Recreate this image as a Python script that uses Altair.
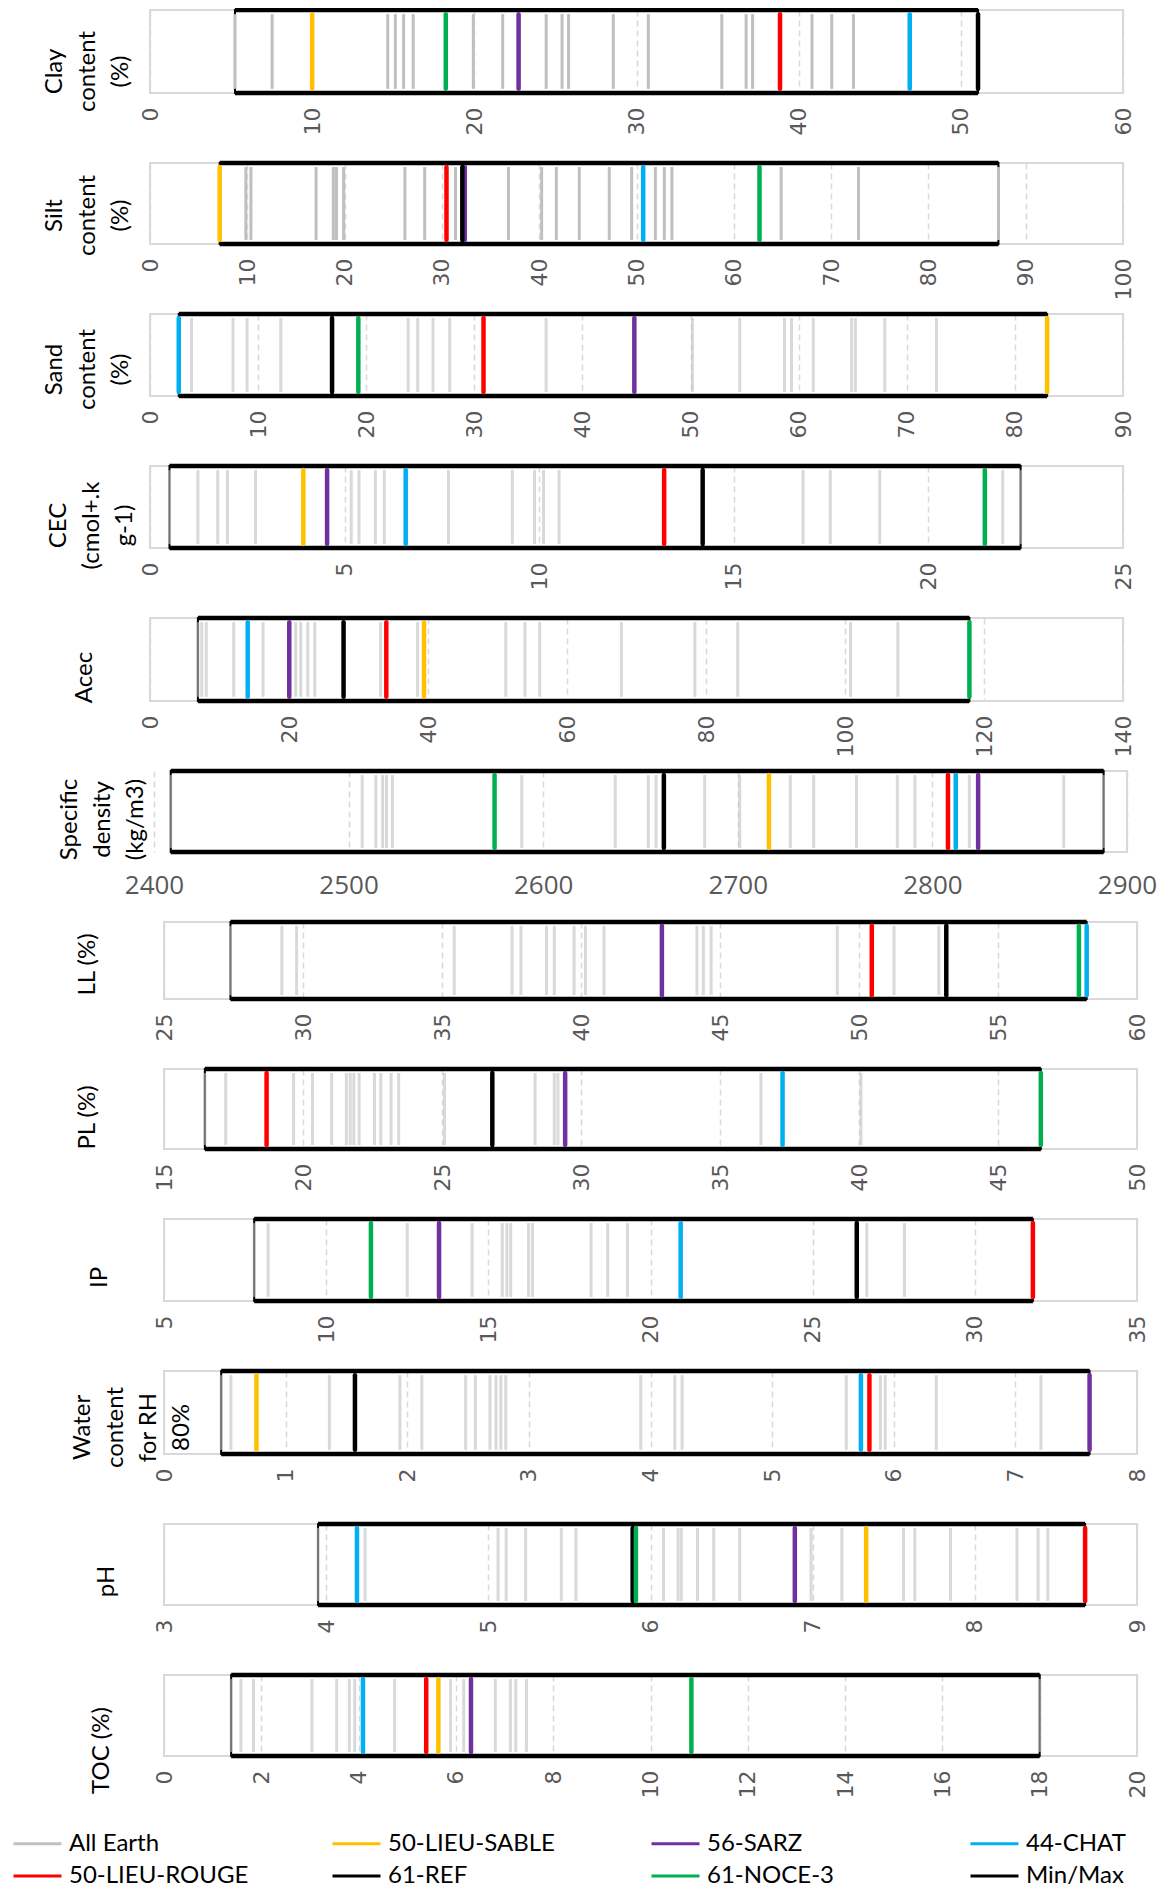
import altair as alt
import pandas as pd

SERIES = ["All Earth", "50-LIEU-SABLE", "56-SARZ", "44-CHAT",
          "50-LIEU-ROUGE", "61-REF", "61-NOCE-3", "Min/Max"]
COLORS = ["#bfbfbf", "#ffc000", "#7030a0", "#00b0f0",
          "#ff0000", "#000000", "#00b050", "#000000"]

# ---- values ----
clay_gray = [5.24, 7.53, 14.66, 15.13, 15.64, 16.23, 19.94, 21.75, 24.43, 25.41, 25.81,
             28.57, 30.73, 35.26, 36.76, 37.16, 40.82, 42.04, 43.38]
clay_hl = {"50-LIEU-SABLE": 10.0, "56-SARZ": 22.73, "44-CHAT": 46.85,
           "50-LIEU-ROUGE": 38.85, "61-REF": 51.06, "61-NOCE-3": 18.24}

silt_gray = [9.85, 10.37, 17.07, 18.84, 19.17, 19.9, 26.2, 28.23, 31.4, 36.84, 40.25, 41.76,
             44.12, 47.2, 49.5, 51.94, 52.86, 53.64, 64.87, 72.82, 87.2]
silt_hl = {"50-LIEU-SABLE": 7.16, "56-SARZ": 32.35, "44-CHAT": 50.69,
           "50-LIEU-ROUGE": 30.47, "61-REF": 32.1, "61-NOCE-3": 62.64}

sand_gray = [3.84, 7.68, 8.98, 12.1, 23.88, 24.76, 26.18, 27.72, 36.64, 50.18, 54.55, 58.69,
             59.34, 61.35, 64.9, 65.25, 67.97, 72.75]
sand_hl = {"50-LIEU-SABLE": 82.98, "56-SARZ": 44.8, "44-CHAT": 2.66,
           "50-LIEU-ROUGE": 30.85, "61-REF": 16.84, "61-NOCE-3": 19.27}

cec_gray = [0.5, 1.23, 1.74, 1.99, 2.71, 5.17, 5.37, 5.79, 6.02, 7.67, 9.31, 9.88, 10.11,
            10.51, 16.78, 17.48, 18.75, 21.91, 22.37]
cec_hl = {"50-LIEU-SABLE": 3.94, "56-SARZ": 4.55, "44-CHAT": 6.57,
          "50-LIEU-ROUGE": 13.21, "61-REF": 14.2, "61-NOCE-3": 21.45}

acec_gray = [6.89, 7.44, 8.09, 12.04, 16.27, 20.96, 21.69, 22.7, 23.71, 33.18, 38.5, 51.19,
             53.95, 56.07, 67.83, 78.4, 84.56, 100.8, 107.6]
acec_hl = {"50-LIEU-SABLE": 39.43, "56-SARZ": 20.04, "44-CHAT": 14.06,
           "50-LIEU-ROUGE": 34.0, "61-REF": 27.85, "61-NOCE-3": 117.9}

sd_gray = [2408.6, 2507, 2514, 2517.5, 2519.5, 2522.5, 2589, 2637, 2654, 2658, 2683, 2701,
           2727, 2739, 2761, 2782, 2791, 2819, 2867.5, 2888]
sd_hl = {"50-LIEU-SABLE": 2716, "56-SARZ": 2823.5, "44-CHAT": 2812,
         "50-LIEU-ROUGE": 2808, "61-REF": 2662, "61-NOCE-3": 2575}

ll_gray = [27.39, 29.24, 29.77, 35.44, 37.52, 37.84, 38.76, 39.04, 39.75, 40.16, 40.83,
           44.17, 44.4, 44.68, 49.22, 51.26, 52.87]
ll_hl = {"56-SARZ": 42.91, "44-CHAT": 58.19, "50-LIEU-ROUGE": 50.46,
         "61-REF": 53.14, "61-NOCE-3": 57.91}

pl_gray = [16.47, 17.22, 19.66, 20.34, 21.03, 21.56, 21.7, 21.83, 22.02, 22.57, 22.8, 23.17,
           23.44, 25.09, 28.35, 29.04, 29.17, 36.47, 40.07]
pl_hl = {"56-SARZ": 29.43, "44-CHAT": 37.25, "50-LIEU-ROUGE": 18.69,
         "61-REF": 26.81, "61-NOCE-3": 46.54}

ip_gray = [7.78, 8.21, 12.5, 14.5, 15.43, 15.57, 15.69, 16.24, 16.36, 18.17, 18.68, 19.29,
           26.67, 27.83]
ip_hl = {"56-SARZ": 13.48, "44-CHAT": 20.93, "50-LIEU-ROUGE": 31.79,
         "61-REF": 26.36, "61-NOCE-3": 11.38}

water_gray = [0.47, 0.55, 1.36, 1.94, 2.12, 2.48, 2.56, 2.68, 2.73, 2.77, 2.81, 3.92, 4.2,
              4.26, 5.61, 5.89, 5.93, 6.35, 7.21]
water_hl = {"50-LIEU-SABLE": 0.76, "56-SARZ": 7.61, "44-CHAT": 5.73,
            "50-LIEU-ROUGE": 5.80, "61-REF": 1.57}

ph_gray = [3.95, 4.24, 5.06, 5.11, 5.23, 5.45, 5.54, 6.08, 6.17, 6.19, 6.29, 6.39, 6.55,
           6.99, 7.18, 7.56, 7.63, 7.85, 8.26, 8.39, 8.45]
ph_hl = {"50-LIEU-SABLE": 7.33, "56-SARZ": 6.89, "44-CHAT": 4.19,
         "50-LIEU-ROUGE": 8.68, "61-REF": 5.89, "61-NOCE-3": 5.91}

toc_gray = [1.38, 1.58, 1.84, 3.04, 3.55, 3.81, 3.92, 4.74, 5.89, 6.16, 6.81, 7.12, 7.23,
            7.45, 18.0]
toc_hl = {"50-LIEU-SABLE": 5.64, "56-SARZ": 6.31, "44-CHAT": 4.09,
          "50-LIEU-ROUGE": 5.39, "61-NOCE-3": 10.84}

titles = [["Clay", "content", "(%)"], ["Silt", "content", "(%)"], ["Sand", "content", "(%)"],
          ["CEC", "(cmol+.k", "g-1)"], ["Acec"], ["Specific", "density", "(kg/m3)"],
          ["LL (%)"], ["PL (%)"], ["IP"], ["Water", "content", "for RH", "80%"],
          ["pH"], ["TOC (%)"]]
domains = [[0, 60], [0, 100], [0, 90], [0, 25], [0, 140], [2400, 2900],
           [25, 60], [15, 50], [5, 35], [0, 8], [3, 9], [0, 20]]
steps = [10, 10, 10, 5, 20, 100, 5, 5, 5, 1, 1, 2]
grays = [clay_gray, silt_gray, sand_gray, cec_gray, acec_gray, sd_gray,
         ll_gray, pl_gray, ip_gray, water_gray, ph_gray, toc_gray]
hls = [clay_hl, silt_hl, sand_hl, cec_hl, acec_hl, sd_hl,
       ll_hl, pl_hl, ip_hl, water_hl, ph_hl, toc_hl]

# layout (pixels)
offsets = [0, 0, 0, 0, 0, 4, 14, 14, 14, 14, 14, 14]
heights = [83, 81, 82, 82, 83, 81, 77, 80, 82, 83, 81, 81]
title_x = [-96, -96, -96, -92, -66, -81, -63, -63, -51, -68, -44, -49]
title_y = [61, 52, 55, 59, 59, 48, 42, 48, 58, 56, 57, 75]
gray_op = [1.0, 1.0, 0.6, 0.6, 0.6, 0.6, 0.6, 0.6, 0.6, 0.6, 0.6, 0.6]

PW = 973
W = 990

LEG = alt.Legend(title=None, orient="none", legendX=-114, legendY=1820, columns=4,
                 direction="horizontal",
                 symbolType="M-3,0H1", symbolSize=576, symbolStrokeWidth=3,
                 labelFont="Lato", labelFontSize=24, labelColor="#000000",
                 labelOffset=6, columnPadding=77, rowPadding=6.5, gridAlign="all",
                 labelLimit=400)
SCOLOR = alt.Scale(domain=SERIES, range=COLORS)


def make_panel(i):
    gray = grays[i]
    hl = hls[i]
    d0, d1 = domains[i]
    allv = list(gray) + list(hl.values())
    vmin, vmax = min(allv), max(allv)
    ticks = []
    t = d0
    while t <= d1 + 1e-9:
        ticks.append(t)
        t += steps[i]

    sd = (i == 5)
    frame_lo = vmin if sd else d0
    xa = alt.Axis(values=ticks, grid=True, gridDash=[6, 4], gridColor="#d9d9d9",
                  gridWidth=1.5, domain=False, ticks=False, title=None, format="d",
                  labelAngle=0 if sd else 270,
                  labelAlign="center" if sd else "right",
                  labelBaseline="top" if sd else "middle",
                  labelFont="Open Sans" if sd else "DejaVu Sans",
                  labelFontSize=26 if sd else 22,
                  labelColor="#595959", labelPadding=20 if sd else 14,
                  labelFlush=False, labelOverlap=False, labelBound=False)
    ya = alt.Axis(title=titles[i], titleAngle=270, titleX=title_x[i], titleY=title_y[i],
                  titleAlign="center", titleBaseline="middle", titleFont="Lato",
                  titleFontSize=24, titleFontWeight="normal", titleColor="#000000",
                  titleLineHeight=33, domain=False, ticks=False, labels=False, grid=False)
    xs = alt.Scale(domain=[d0, d1], range=[offsets[i], offsets[i] + PW], nice=False, zero=False)
    ys = alt.Scale(domain=[0, 1], nice=False, zero=False)

    frame_df = pd.DataFrame({"a": [frame_lo], "b": [d1], "y0": [0.0], "y1": [1.0]})
    mm_df = pd.DataFrame({"a": [vmin], "b": [vmax], "y0": [0.0], "y1": [1.0],
                          "series": ["Min/Max"]})
    edge_df = pd.DataFrame({"a": [vmin, vmin], "b": [vmax, vmax], "y0": [0.0, 1.0],
                            "series": ["Min/Max", "Min/Max"]})
    gray_df = pd.DataFrame({"a": gray, "series": "All Earth", "y0": 0.05, "y1": 0.95})
    hl_rows = [(k, hl[k]) for k in SERIES if k in hl]
    hl_df = pd.DataFrame({"a": [v for _, v in hl_rows], "series": [k for k, _ in hl_rows],
                          "y0": 0.05, "y1": 0.95})

    X = alt.X("a:Q", scale=xs, axis=xa)
    Y = alt.Y("y0:Q", scale=ys, axis=ya)
    S = alt.Stroke("series:N", scale=SCOLOR, legend=LEG)

    frame = alt.Chart(frame_df).mark_rect(fillOpacity=0, stroke="#d9d9d9", strokeWidth=2).encode(
        x=X, x2=alt.X2("b"), y=Y, y2=alt.Y2("y1"))
    mm = alt.Chart(mm_df).mark_rect(fillOpacity=0, strokeWidth=2).encode(
        x=X, x2=alt.X2("b"), y=Y, y2=alt.Y2("y1"), stroke=S)
    edges = alt.Chart(edge_df).mark_rule(strokeWidth=4.5).encode(
        x=X, x2=alt.X2("b"), y=Y, stroke=S)
    glines = alt.Chart(gray_df).mark_rule(strokeWidth=3, strokeOpacity=gray_op[i]).encode(
        x=X, y=Y, y2=alt.Y2("y1"), stroke=S)
    hlines = alt.Chart(hl_df).mark_rule(strokeWidth=4.5, strokeCap="round").encode(
        x=X, y=Y, y2=alt.Y2("y1"), stroke=S)
    return alt.layer(frame, mm, edges, glines, hlines).properties(width=W, height=heights[i])


chart = alt.vconcat(*[make_panel(i) for i in range(12)], spacing=70, bounds="flush").resolve_scale(
    x="independent", y="independent", stroke="shared"
).properties(
    padding={"left": 28, "top": -1, "right": 0, "bottom": 0}
).configure_view(strokeWidth=0)

chart.save("out.html", embed_options={"renderer": "svg", "actions": False})
